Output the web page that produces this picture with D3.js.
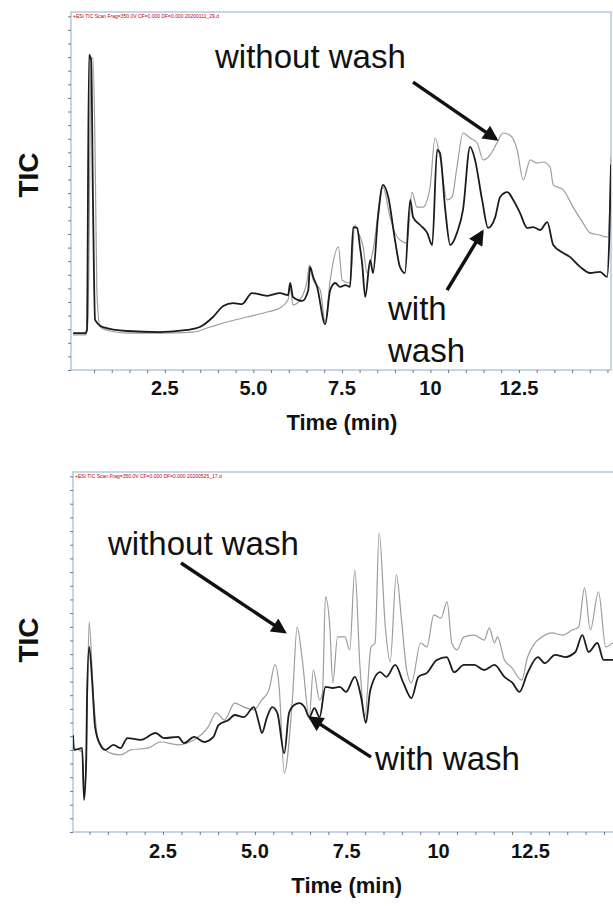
<!DOCTYPE html>
<html>
<head>
<meta charset="utf-8">
<script src="https://cdn.jsdelivr.net/npm/d3@7"></script>
<style>
  body { margin: 0; background: #fff; }
  svg { display: block; font-family: "Liberation Sans", Arial, sans-serif; }
</style>
</head>
<body>
<svg width="613" height="906"></svg>
<script>
// ---- data (time in min, TIC in % of panel full scale) ----
const xTickLabels = ["2.5", "5.0", "7.5", "10", "12.5"];
const xTickValues = [2.5, 5.0, 7.5, 10, 12.5];

// top panel, without wash (grey)
const topWithoutTime = [-0.09,0.27,0.33,0.42,0.47,0.53,0.58,0.67,0.95,1.43,2.36,3.30,3.78,4.26,4.82,5.39,5.75,5.98,6.04,6.12,6.32,6.52,6.58,6.69,6.89,7.03,7.17,7.40,7.51,7.73,7.87,7.96,8.10,8.21,8.38,8.66,8.86,9.00,9.14,9.34,9.48,9.62,9.79,9.99,10.13,10.27,10.47,10.61,10.75,10.92,11.12,11.32,11.49,11.69,11.88,12.05,12.25,12.45,12.62,12.82,13.01,13.18,13.38,13.47,13.75,14.03,14.31,14.51,14.79,14.94,15.02,15.10];
const topWithoutTIC  = [9.8,9.8,14.0,86.6,87.2,61.5,22.3,12.0,10.9,10.3,10.3,10.6,12.0,13.4,14.8,16.2,17.3,19.6,23.2,18.2,19.6,25.1,29.3,25.1,22.3,13.4,25.1,34.4,25.1,24.3,40.5,38.5,34.4,27.1,33.5,51.1,42.7,38.3,36.3,35.5,49.7,45.5,45.5,51.1,64.8,59.5,47.5,48.3,56.7,66.2,64.8,63.4,58.7,60.1,63.4,66.2,65.6,61.5,53.1,58.7,57.8,58.1,56.7,51.7,50.3,45.5,41.1,38.3,37.7,37.2,37.2,59.5];

// top panel, with wash (black)
const topWithTime = [-0.09,0.25,0.30,0.36,0.42,0.47,0.53,0.75,1.43,2.36,3.13,3.49,3.86,4.15,4.43,4.68,4.96,5.39,5.75,5.98,6.04,6.12,6.38,6.55,6.60,6.69,6.80,7.03,7.17,7.31,7.45,7.60,7.73,7.82,7.93,8.01,8.07,8.16,8.30,8.38,8.52,8.66,8.81,9.00,9.14,9.28,9.43,9.51,9.71,9.91,10.05,10.19,10.27,10.42,10.56,10.75,10.92,11.12,11.26,11.46,11.63,11.83,11.97,12.17,12.34,12.53,12.73,12.90,13.10,13.30,13.47,13.75,13.94,14.23,14.51,14.79,14.99,15.05,15.10];
const topWithTIC  = [10.3,10.3,11.2,88.0,86.6,47.5,14.0,12.0,10.9,10.6,11.2,12.0,14.8,17.9,18.7,18.4,21.5,20.7,21.5,20.9,24.3,20.4,19.3,22.3,28.8,26.0,23.2,12.8,22.3,24.3,23.2,23.7,23.2,39.9,39.7,34.4,29.9,20.4,30.7,27.1,42.7,51.7,48.3,36.3,28.8,27.1,47.5,42.7,40.5,38.3,34.9,61.5,60.6,44.7,34.9,38.3,44.7,62.3,58.7,47.5,39.7,42.7,48.3,49.7,47.5,43.9,39.7,39.9,39.1,41.3,34.9,32.7,31.6,28.8,27.1,27.4,26.0,36.3,57.3];

// bottom panel, without wash (grey)
const botWithoutTime = [0.05,0.30,0.35,0.41,0.49,0.60,0.74,1.07,1.34,1.62,2.08,2.44,2.91,3.35,3.73,3.95,4.17,4.45,4.70,4.97,5.19,5.38,5.55,5.66,5.80,6.02,6.15,6.29,6.48,6.59,6.76,6.84,6.92,7.04,7.12,7.25,7.45,7.58,7.72,7.86,7.99,8.16,8.27,8.38,8.55,8.68,8.85,8.99,9.13,9.26,9.51,9.68,9.87,10.06,10.23,10.36,10.50,10.69,10.97,11.24,11.38,11.52,11.60,11.79,11.98,12.26,12.42,12.62,12.81,13.09,13.36,13.64,13.81,13.97,14.13,14.35,14.55,14.74,14.90,15.23];
const botWithoutTIC  = [23.3,22.2,10.8,20.0,58.3,38.6,25.6,21.9,21.4,22.8,23.3,25.0,24.2,25.6,29.2,33.1,31.1,35.8,34.7,33.9,36.7,39.4,46.4,40.3,16.4,36.7,56.9,47.8,31.9,45.0,36.7,38.6,65.3,56.9,41.4,54.2,54.2,50.6,72.8,45.8,31.9,51.4,52.5,83.1,56.9,47.2,71.4,58.9,45.0,41.4,52.5,51.4,60.3,59.4,63.9,52.5,50.6,54.2,54.7,53.3,56.7,52.5,54.2,47.8,45.8,42.2,48.6,52.5,54.2,55.3,54.7,56.1,56.9,67.8,56.1,66.7,51.4,52.5,52.8,53.3];

// bottom panel, with wash (black)
const botWithTime = [0.05,0.08,0.30,0.35,0.41,0.43,0.49,0.57,0.65,0.79,0.93,1.15,1.34,1.53,1.89,2.30,2.52,2.91,3.07,3.35,3.62,3.87,4.01,4.28,4.45,4.70,4.97,5.11,5.19,5.33,5.47,5.61,5.80,5.93,6.07,6.21,6.35,6.48,6.62,6.76,6.92,7.12,7.31,7.48,7.72,7.89,8.02,8.14,8.41,8.58,8.82,9.04,9.26,9.45,9.68,9.95,10.22,10.42,10.69,10.97,11.24,11.52,11.79,12.01,12.20,12.42,12.70,12.89,13.17,13.44,13.72,13.91,14.08,14.32,14.49,14.90,15.23];
const botWithTIC  = [26.9,22.8,23.3,8.9,20.0,36.7,51.4,42.2,29.2,24.2,22.8,24.2,23.3,26.1,25.6,27.5,26.1,26.4,24.7,26.4,25.0,26.4,29.7,31.1,32.5,31.9,34.7,30.3,27.5,31.9,34.7,33.1,21.9,33.1,35.3,35.8,34.7,31.9,34.4,31.9,40.3,40.0,40.3,38.9,43.1,37.5,30.3,39.4,44.4,43.1,46.4,41.4,37.2,43.1,44.2,47.8,48.6,44.4,46.4,46.4,45.0,46.4,43.1,41.4,38.9,44.2,48.6,46.9,49.2,48.6,50.0,54.7,50.0,52.5,47.8,47.8,48.3];

// ---- layout ----
const svg = d3.select("svg");

const defs = svg.append("defs");
defs.append("marker")
    .attr("id", "head")
    .attr("viewBox", "0 0 10 10")
    .attr("refX", 8).attr("refY", 5)
    .attr("markerWidth", 5).attr("markerHeight", 4.4)
    .attr("orient", "auto")
  .append("path")
    .attr("d", "M0,0 L10,5 L0,10 z")
    .attr("fill", "#111");

const panels = [
  {
    id: "top",
    left: 71, right: 611, top: 12, bottom: 370,
    xDomain: [-0.15, 15.1],
    header: "+ESI TIC Scan Frag=350.0V CF=0.000 DF=0.000 20200111_29.d",
    series: [
      { time: topWithoutTime, tic: topWithoutTIC, color: "#9d9d9d", width: 1.2 },
      { time: topWithTime, tic: topWithTIC, color: "#1c1c1c", width: 1.8 }
    ],
    labelY: 395, titleY: 430, ticY: 175,
    notes: [
      { lines: ["without wash"], x: 215, y: 68 },
      { lines: ["with", "wash"], x: 388, y: 320 }
    ],
    arrows: [
      { from: [9.51, 80.4], to: [11.85, 64.5] },
      { from: [10.47, 22.3], to: [11.46, 38.5] }
    ]
  },
  {
    id: "bottom",
    left: 73, right: 640, top: 472, bottom: 832,
    xDomain: [0.05, 15.48],
    header: "+ESI TIC Scan Frag=350.0V CF=0.000 DF=0.000 20200525_17.d",
    series: [
      { time: botWithoutTime, tic: botWithoutTIC, color: "#9d9d9d", width: 1.2 },
      { time: botWithTime, tic: botWithTIC, color: "#1c1c1c", width: 1.8 }
    ],
    labelY: 858, titleY: 893, ticY: 640,
    notes: [
      { lines: ["without wash"], x: 108, y: 555 },
      { lines: ["with wash"], x: 375, y: 770 }
    ],
    arrows: [
      { from: [2.99, 74.7], to: [5.80, 55.6] },
      { from: [8.16, 20.8], to: [6.51, 31.7] }
    ]
  }
];

panels.forEach(p => {
  const g = svg.append("g");
  const x = d3.scaleLinear().domain(p.xDomain).range([p.left, p.right]);
  const y = d3.scaleLinear().domain([0, 100]).range([p.bottom, p.top]);

  // frame
  g.append("rect")
      .attr("x", p.left).attr("y", p.top)
      .attr("width", p.right - p.left).attr("height", p.bottom - p.top)
      .attr("fill", "none")
      .attr("stroke", "#9fbbe0")
      .attr("stroke-width", 1.2);

  // small ticks on left and bottom
  const yAxis = g.append("g")
      .attr("transform", `translate(${p.left},0)`)
      .call(d3.axisLeft(y).tickValues(d3.range(0, 101, 3.8)).tickSize(3).tickFormat(""));
  const xAxis = g.append("g")
      .attr("transform", `translate(0,${p.bottom})`)
      .call(d3.axisBottom(x).tickValues(d3.range(0.5, 15.5, 0.5)).tickSize(3).tickFormat(""));
  [yAxis, xAxis].forEach(a => {
    a.select(".domain").remove();
    a.selectAll("line").attr("stroke", "#555").attr("stroke-width", 0.8);
  });

  // tick labels
  g.selectAll("text.xlab")
    .data(xTickValues)
    .enter()
    .append("text")
      .attr("class", "xlab")
      .attr("x", d => x(d))
      .attr("y", p.labelY)
      .attr("text-anchor", "middle")
      .style("font-size", "20px")
      .style("font-weight", "bold")
      .style("fill", "#111")
      .text((d, i) => xTickLabels[i]);

  g.append("text")
      .attr("x", x(7.5))
      .attr("y", p.titleY)
      .attr("text-anchor", "middle")
      .style("font-size", "22px")
      .style("font-weight", "bold")
      .style("fill", "#111")
      .text("Time (min)");

  g.append("text")
      .attr("transform", `translate(38,${p.ticY}) rotate(-90)`)
      .attr("text-anchor", "middle")
      .style("font-size", "28px")
      .style("font-weight", "bold")
      .style("fill", "#111")
      .text("TIC");

  g.append("text")
      .attr("x", p.left + 2)
      .attr("y", p.top + 6)
      .style("font-size", "5px")
      .style("fill", "#c00000")
      .text(p.header);

  // traces
  const clipId = "clip-" + p.id;
  defs.append("clipPath").attr("id", clipId)
    .append("rect")
      .attr("x", p.left).attr("y", p.top)
      .attr("width", p.right - p.left).attr("height", p.bottom - p.top);

  const line = d3.line()
      .curve(d3.curveMonotoneX)
      .x(d => x(d[0]))
      .y(d => y(d[1]));

  p.series.forEach(s => {
    g.append("path")
        .datum(s.time.map((t, i) => [t, s.tic[i]]))
        .attr("clip-path", `url(#${clipId})`)
        .attr("d", line)
        .attr("fill", "none")
        .attr("stroke", s.color)
        .attr("stroke-width", s.width)
        .attr("stroke-linejoin", "round");
  });

  // annotations
  p.notes.forEach(n => {
    const t = g.append("text")
        .attr("x", n.x).attr("y", n.y)
        .style("font-size", "33px")
        .style("fill", "#111");
    n.lines.forEach((l, i) => {
      t.append("tspan").attr("x", n.x).attr("dy", i === 0 ? 0 : 42).text(l);
    });
  });

  p.arrows.forEach(a => {
    g.append("line")
        .attr("x1", x(a.from[0])).attr("y1", y(a.from[1]))
        .attr("x2", x(a.to[0])).attr("y2", y(a.to[1]))
        .attr("stroke", "#111")
        .attr("stroke-width", 3.5)
        .attr("marker-end", "url(#head)");
  });
});
</script>
</body>
</html>
